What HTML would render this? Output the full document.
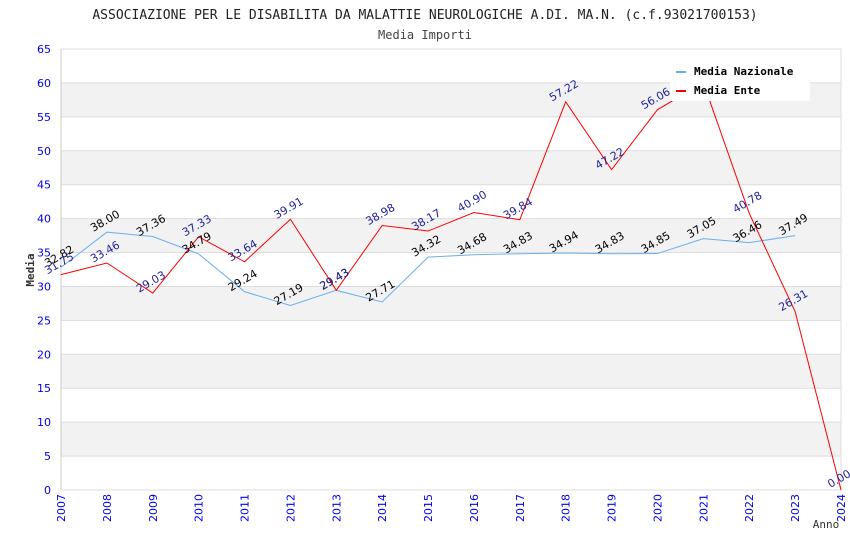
<!DOCTYPE html>
<html><head><meta charset="utf-8"><style>
body{margin:0;background:#fff;}
svg text{font-family:"DejaVu Sans","Liberation Sans",sans-serif;}
.mono{font-family:"DejaVu Sans Mono","Liberation Mono",monospace;}
</style></head><body>
<svg id="chart" width="850" height="550" xmlns="http://www.w3.org/2000/svg">
<text class="mono" x="425" y="19" text-anchor="middle" font-size="13" fill="#222">ASSOCIAZIONE PER LE DISABILITA DA MALATTIE NEUROLOGICHE A.DI. MA.N. (c.f.93021700153)</text>
<text class="mono" x="425" y="39" text-anchor="middle" font-size="12" fill="#444">Media Importi</text>
<g id="bands"></g><g id="grid"></g><g id="axes"></g><g id="series"></g><g id="labels"></g>
<text class="mono" x="34" y="270" font-size="11" font-weight="bold" fill="#333" transform="rotate(-90 34 270)" text-anchor="middle">Media</text>
<text class="mono" x="826" y="528" font-size="11" fill="#333" text-anchor="middle">Anno</text>
<g>
<rect x="670" y="58" width="140" height="43" fill="#fff"/>
<line x1="676" y1="72" x2="686" y2="72" stroke="#6aaef0" stroke-width="2"/>
<text class="mono" x="694" y="75" font-size="11" font-weight="bold" fill="#000">Media Nazionale</text>
<line x1="676" y1="91" x2="686" y2="91" stroke="#ff0000" stroke-width="2"/>
<text class="mono" x="694" y="94" font-size="11" font-weight="bold" fill="#000">Media Ente</text>
</g>
</svg>
<script>
const years=[2007,2008,2009,2010,2011,2012,2013,2014,2015,2016,2017,2018,2019,2020,2021,2022,2023,2024];
const nazionale=[32.82,38.00,37.36,34.79,29.24,27.19,29.43,27.71,34.32,34.68,34.83,34.94,34.83,34.85,37.05,36.46,37.49];
const ente=[31.75,33.46,29.03,37.33,33.64,39.91,29.43,38.98,38.17,40.90,39.84,57.22,47.22,56.06,60.04,40.78,26.31,0.00];
const yTicks=[0,5,10,15,20,25,30,35,40,45,50,55,60,65];
const NS="http://www.w3.org/2000/svg";
const L=61,R=841,T=49,B=490;
const x=i=>L+(R-L)*(years[i]-years[0])/(years[years.length-1]-years[0]);
const y=v=>B-(B-T)*v/65;
function mk(tag,attrs,parent){const e=document.createElementNS(NS,tag);for(const k in attrs)e.setAttribute(k,attrs[k]);document.getElementById(parent).appendChild(e);return e;}
for(let i=0;i<yTicks.length-1;i++){
  if(i%2===1){const r=mk('rect',{x:L,y:y(yTicks[i+1]),width:R-L,height:y(yTicks[i])-y(yTicks[i+1]),fill:'#f2f2f2'},'bands');
  
  }
}
yTicks.forEach(v=>{
  const l=mk('line',{x1:L,x2:R,y1:y(v),y2:y(v),stroke:'#ddd'},'grid');
  
  
  const t=mk('text',{x:L-10,y:y(v)+4,'text-anchor':'end','font-size':11,fill:'#0000ee'},'axes');t.textContent=v;
  
  
});
mk('line',{x1:L,x2:L,y1:T,y2:B,stroke:'#ccc'},'axes');
mk('line',{x1:R,x2:R,y1:T,y2:B,stroke:'#ddd'},'axes');
mk('line',{x1:L,x2:R,y1:T,y2:T,stroke:'#ddd'},'axes');
years.forEach((yr,i)=>{
  const t=mk('text',{x:x(i),y:B+4,'font-size':11,fill:'#0000ee','text-anchor':'end',transform:`rotate(-90 ${x(i)} ${B+4})`,dy:'4'},'axes');t.textContent=yr;
  
  
});
function line(vals,color,name){
  const p=mk('polyline',{points:vals.map((v,i)=>x(i)+','+y(v)).join(' '),fill:'none',stroke:color,'stroke-width':1},'series');
  
  
}
line(nazionale,'#6aaef0','line-media-nazionale');
line(ente,'#ff0000','line-media-ente');
function labels(vals,color,name,dy){
  vals.forEach((v,i)=>{const px=x(i),py=y(v)+dy;
    const t=mk('text',{x:px,y:py,'font-size':11,fill:color,'text-anchor':'middle',transform:`rotate(-30 ${px} ${py})`},'labels');
    t.textContent=v.toFixed(2);
    
    });
}
labels(nazionale,'#000','label-nazionale',-8);
labels(ente,'#22229a','label-ente',-8);
</script>
</body></html>
